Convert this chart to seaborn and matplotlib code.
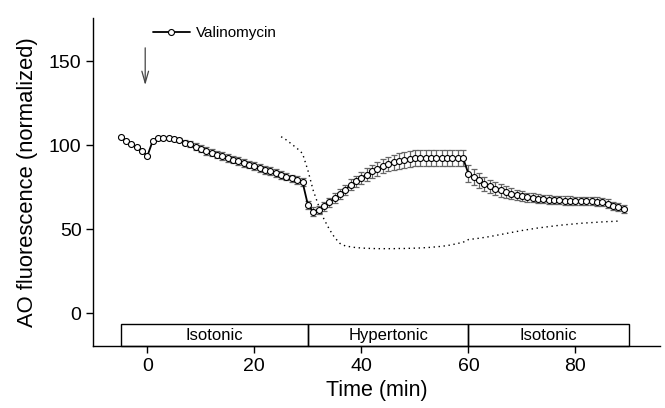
import matplotlib
matplotlib.use("Agg")
import matplotlib.pyplot as plt
import seaborn as sns
import pandas as pd
from matplotlib.patches import Rectangle

# ---------------- data ----------------
time_main = list(range(-5, 90))
ao_main = [
    105, 102.5, 100.5, 99, 96.5,                                  # -5..-1
    93.5, 102.5, 104, 104, 104, 103.8, 103, 101.5, 100.5, 99,      # 0..9
    97.8, 96.6, 95.5, 94.4, 93.4, 92.4, 91.4, 90.4, 89.4, 88.4,    # 10..19
    87.4, 86.4, 85.4, 84.4, 83.3, 82.2, 81.2, 80.2, 79.2, 78,      # 20..29
    64.5, 60.5, 61.5, 63.5, 66, 68.5, 71, 73.5, 76.5, 78.5,        # 30..39
    80.5, 82.5, 84.3, 86, 87.5, 88.7, 89.8, 90.6, 91.3, 91.8,      # 40..49
    92.2, 92.5, 92.5, 92.5, 92.5, 92.5, 92.5, 92.5, 92.5, 92.2,    # 50..59
    83, 81, 79, 77, 75.5, 74, 73, 72, 71, 70.2,                    # 60..69
    69.5, 69, 68.6, 68.2, 67.9, 67.6, 67.4, 67.2, 67, 67,          # 70..79
    66.9, 66.8, 66.7, 66.6, 66.4, 66, 65.2, 64, 63, 62,            # 80..89
]
ao_sem = [
    0.6, 0.6, 0.6, 0.6, 0.6,
    0.6, 0.6, 0.6, 0.6, 0.6, 0.6, 1.2, 1.5, 1.8, 2.0,
    2.1, 2.2, 2.2, 2.3, 2.3, 2.3, 2.3, 2.3, 2.3, 2.3,
    2.3, 2.3, 2.3, 2.3, 2.3, 2.3, 2.2, 2.2, 2.2, 2.2,
    2.5, 2.5, 2.5, 2.6, 2.7, 2.8, 2.9, 3.0, 3.2, 3.4,
    3.6, 3.8, 4.0, 4.2, 4.3, 4.4, 4.5, 4.6, 4.7, 4.7,
    4.8, 4.8, 4.8, 4.8, 4.8, 4.8, 4.8, 4.8, 4.8, 4.8,
    5.0, 4.8, 4.5, 4.3, 4.0, 3.8, 3.6, 3.4, 3.2, 3.0,
    2.9, 2.8, 2.7, 2.6, 2.6, 2.5, 2.5, 2.5, 2.5, 2.5,
    2.5, 2.5, 2.5, 2.5, 2.5, 2.5, 2.5, 2.4, 2.3, 2.2,
]
time_dotted = list(range(25, 89))
ao_dotted = [
    105, 103, 100.5, 98, 95,                                       # 25..29
    85, 73, 64, 56, 50, 45, 41.5, 40, 39.5, 39,                    # 30..39
    38.8, 38.6, 38.5, 38.4, 38.4, 38.4, 38.4, 38.5, 38.5, 38.6,    # 40..49
    38.7, 38.8, 39, 39.2, 39.5, 39.8, 40.2, 40.8, 41.5, 42.2,      # 50..59
    43.8, 44.2, 44.6, 45.1, 45.6, 46.2, 46.8, 47.4, 48, 48.6,      # 60..69
    49.2, 49.7, 50.2, 50.7, 51.1, 51.5, 51.9, 52.3, 52.6, 52.9,    # 70..79
    53.2, 53.5, 53.7, 53.9, 54.1, 54.3, 54.5, 54.6, 54.8,          # 80..88
]
phase_labels = ["Isotonic", "Hypertonic", "Isotonic"]
phase_edges = [-5, 30, 60, 90]
x_ticks = [0, 20, 40, 60, 80]
y_ticks = [0, 50, 100, 150]
series_label = "Valinomycin"
arrow_time = -0.4
arrow_from, arrow_to = 159.5, 134

df_main = pd.DataFrame({"time": time_main, "ao": ao_main, "sem": ao_sem})
df_dot = pd.DataFrame({"time": time_dotted, "ao": ao_dotted})

# ---------------- style ----------------
sns.set_theme(style="ticks", rc={
    "axes.edgecolor": "black", "axes.linewidth": 1.0,
    "xtick.color": "black", "ytick.color": "black",
    "text.color": "black", "axes.labelcolor": "black",
    "xtick.major.size": 5, "ytick.major.size": 5,
    "xtick.major.width": 1.0, "ytick.major.width": 1.0,
})
plt.rcParams["font.family"] = ["Liberation Sans", "DejaVu Sans"]

W, H = 665, 408
fig = plt.figure(figsize=(W / 100, H / 100), dpi=100)
ax = fig.add_axes([93.3 / W, 1 - 346 / H, (660 - 93.3) / W, (346 - 18) / H])

# error bars
ax.errorbar(df_main["time"], df_main["ao"], yerr=df_main["sem"], fmt="none",
            ecolor="#666666", elinewidth=0.9, capsize=2.0, capthick=0.9, zorder=2)

# main line
sns.lineplot(data=df_main, x="time", y="ao", ax=ax, color="black", lw=1.3,
             marker="o", markersize=4.3, markerfacecolor="white",
             markeredgecolor="black", markeredgewidth=0.8, zorder=3,
             legend=False)
main_line = ax.lines[-1]

# dotted line
sns.lineplot(data=df_dot, x="time", y="ao", ax=ax, color="black", lw=1.0,
             linestyle=(0, (1, 2.6)), zorder=1, legend=False)

# phase boxes
ylo, yhi = -19.5, 175.6
box_top = -6.5
for lab, a, b in zip(phase_labels, phase_edges[:-1], phase_edges[1:]):
    ax.add_patch(Rectangle((a, ylo), b - a, box_top - ylo, fill=False,
                           ec="black", lw=1.0, zorder=4, clip_on=False))
    ax.text((a + b) / 2, (ylo + box_top) / 2, lab, ha="center", va="center",
            fontsize=12)

# arrow
ax.annotate("", xy=(arrow_time, arrow_to), xytext=(arrow_time, arrow_from),
            arrowprops=dict(arrowstyle="->,head_length=0.7,head_width=0.2",
                            color="#444444", lw=0.9))

# legend
ax.legend(handles=[main_line], labels=[series_label], loc="center left",
          bbox_to_anchor=(153 / W, 1 - 33 / H), bbox_transform=fig.transFigure,
          frameon=False, borderpad=0, borderaxespad=0, handlelength=2.4,
          handletextpad=0.4, fontsize=11)

ax.set_xlim(-10.1, 95.8)
ax.set_ylim(ylo, yhi)
ax.set_xticks(x_ticks)
ax.set_yticks(y_ticks)
ax.tick_params(labelsize=14)
ax.set_xlabel("Time (min)", fontsize=15.5)
ax.set_ylabel("AO fluorescence (normalized)", fontsize=15.8, labelpad=8)
sns.despine(ax=ax)

fig.savefig("out.png", dpi=100)
